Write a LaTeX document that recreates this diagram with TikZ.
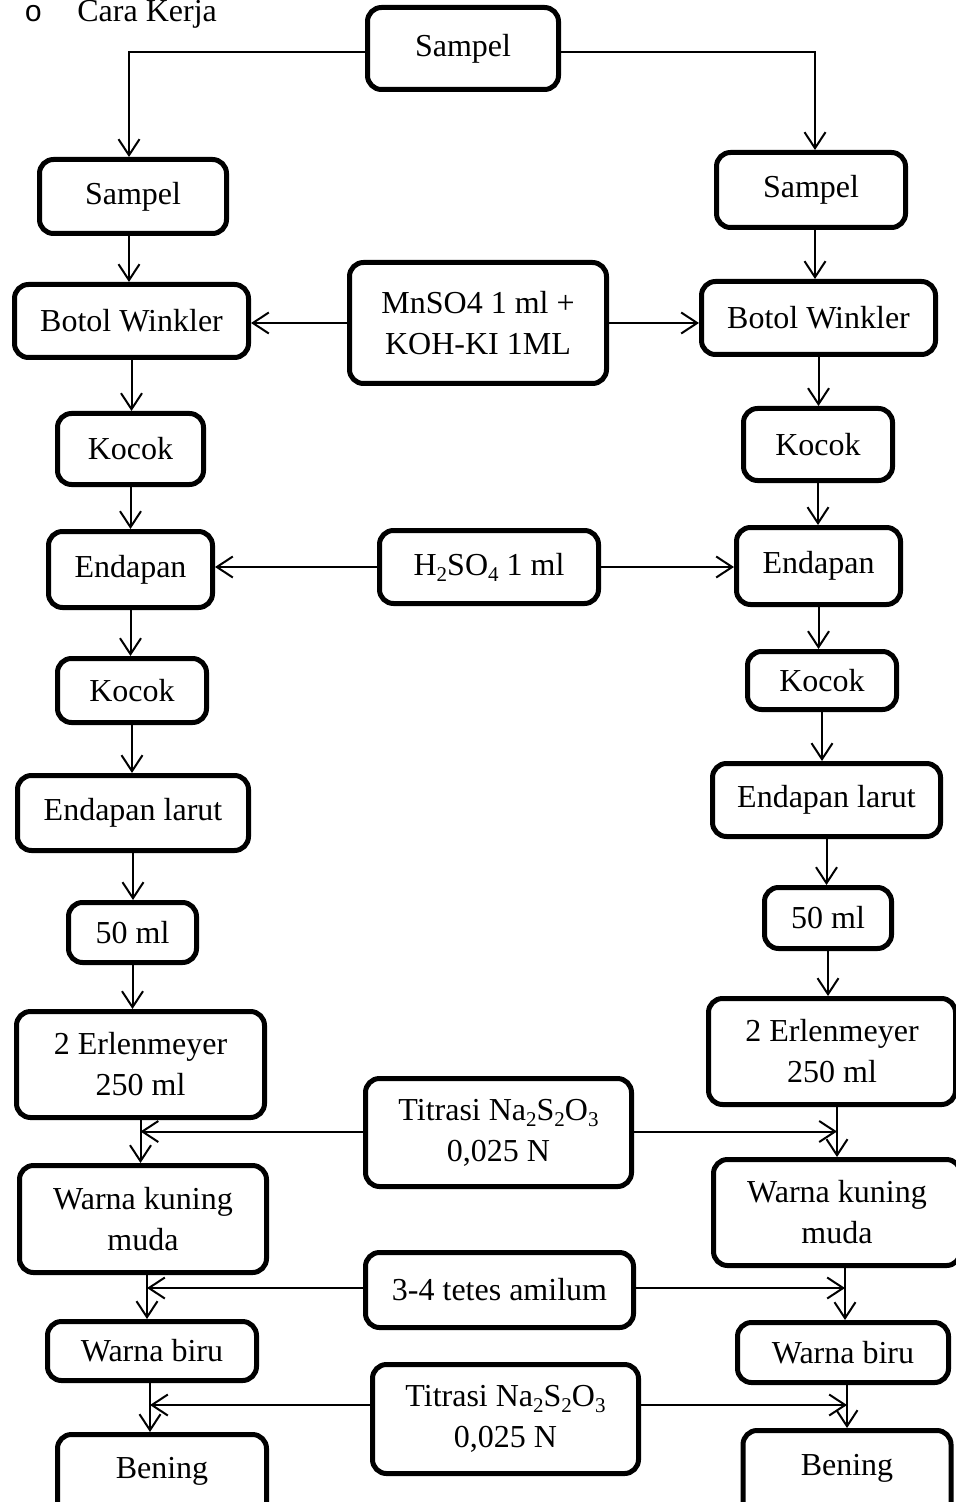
\documentclass[tikz,border=0pt]{standalone}
\usepackage{fontspec}
\setmainfont{Liberation Serif}
\newfontfamily\bulletfont{Liberation Mono}
\usetikzlibrary{arrows.meta}
\newcommand\txt{\fontsize{16}{20.5}\selectfont}
\newcommand\sbs[1]{\raisebox{-0.4ex}{\fontsize{10.5}{12}\selectfont #1}}
\begin{document}
\begin{tikzpicture}[x=0.5pt,y=-0.5pt,
  box/.style={draw,line width=2.5pt,rounded corners=7pt,align=center,inner sep=0pt,font=\txt},
  arr/.style={line width=1pt,-{Straight Barb[length=8pt,width=10.5pt]}}]
\useasboundingbox (0,0) rectangle (956,1502);
\clip (0,0) rectangle (956,1502);
% title
\node[anchor=base west,font=\bulletfont\fontsize{15}{18}\selectfont,inner sep=0pt] (bul) at (24,22) {o};
\node[anchor=base west,font=\txt,inner sep=0pt] (title) at (77,22) {Cara Kerja};
% top
\node[box,minimum width=95.5pt,minimum height=41pt] (top) at (463,48.5) {Sampel};
% left column
\node[box,minimum width=93.5pt,minimum height=37pt] (sL) at (133,196.5) {Sampel};
\node[box,minimum width=117pt,minimum height=36.5pt] (bwL) at (131.5,321) {Botol Winkler};
\node[box,minimum width=73pt,minimum height=35.5pt] (kL1) at (130.5,449) {Kocok};
\node[box,minimum width=82pt,minimum height=38pt] (eL) at (130.5,569.5) {Endapan};
\node[box,minimum width=74.5pt,minimum height=32pt] (kL2) at (132,690.5) {Kocok};
\node[box,minimum width=115.5pt,minimum height=37.5pt] (elL) at (133,813) {Endapan larut};
\node[box,minimum width=64pt,minimum height=30pt] (mlL) at (132.5,932.5) {50 ml};
\node[box,minimum width=124pt,minimum height=53pt] (erL) at (140.5,1064.5) {2 Erlenmeyer\\250 ml};
\node[box,minimum width=123.5pt,minimum height=53.5pt] (wkL) at (143,1219) {Warna kuning\\muda};
\node[box,minimum width=104.5pt,minimum height=29.5pt] (wbL) at (152,1351) {Warna biru};
\node[box,minimum width=104.5pt,text height=21.75pt,text depth=22pt,anchor=north] (bnL) at (162,1432) {Bening};
% right column
\node[box,minimum width=94.5pt,minimum height=37.5pt] (sR) at (811,190) {Sampel};
\node[box,minimum width=117pt,minimum height=36.5pt] (bwR) at (818.5,318) {Botol Winkler};
\node[box,minimum width=74.5pt,minimum height=36pt] (kR1) at (818,444.5) {Kocok};
\node[box,minimum width=82pt,minimum height=38.5pt] (eR) at (818.5,566) {Endapan};
\node[box,minimum width=74.5pt,minimum height=29pt] (kR2) at (822,680.5) {Kocok};
\node[box,minimum width=114pt,minimum height=36.5pt] (elR) at (826.5,800) {Endapan larut};
\node[box,minimum width=63.5pt,minimum height=30.5pt] (mlR) at (828,918) {50 ml};
\node[box,minimum width=123.5pt,minimum height=53pt] (erR) at (832,1051.5) {2 Erlenmeyer\\250 ml};
\node[box,minimum width=123.5pt,minimum height=53pt] (wkR) at (837,1212.5) {Warna kuning\\muda};
\node[box,minimum width=105.5pt,minimum height=30pt] (wbR) at (843,1352.5) {Warna biru};
\node[box,minimum width=104pt,text height=22.5pt,text depth=22pt,anchor=north] (bnR) at (847,1428) {Bening};
% centre
\node[box,minimum width=128.5pt,minimum height=60.5pt] (mn) at (478,323) {MnSO4 1 ml +\\KOH-KI 1ML};
\node[box,minimum width=109.5pt,minimum height=36.5pt] (h2) at (489,567) {H\sbs{2}SO\sbs{4} 1 ml};
\node[box,minimum width=133pt,minimum height=54pt] (t1) at (498.5,1132.5) {Titrasi Na\sbs{2}S\sbs{2}O\sbs{3}\\0,025 N};
\node[box,minimum width=134pt,minimum height=37.5pt] (am) at (499.5,1290) {3-4 tetes amilum};
\node[box,minimum width=133pt,minimum height=54.5pt] (t2) at (505.5,1419) {Titrasi Na\sbs{2}S\sbs{2}O\sbs{3}\\0,025 N};
% junction coordinates on the vertical lines
\coordinate (jL1) at (erL.south);
\coordinate (jR1) at (wkR.north);
\coordinate (jL2) at ([xshift=2pt]wkL.south);
\coordinate (jR2) at ([xshift=1pt]wbR.north);
\coordinate (jL3) at ([xshift=-1pt]wbL.south);
\coordinate (jR3) at (bnR.north);
% top split
\draw[arr] ([yshift=-2pt]top.west) -| ([xshift=-2pt]sL.north);
\draw[arr] ([yshift=-2pt]top.east) -| ([xshift=2pt]sR.north);
% left verticals
\draw[arr] ([xshift=-2pt]sL.south) -- ([xshift=-2pt]sL.south |- bwL.north);
\draw[arr] (bwL.south) -- (bwL.south |- kL1.north);
\draw[arr] (kL1.south) -- (kL1.south |- eL.north);
\draw[arr] (eL.south) -- (eL.south |- kL2.north);
\draw[arr] (kL2.south) -- (kL2.south |- elL.north);
\draw[arr] (elL.south) -- (elL.south |- mlL.north);
\draw[arr] (mlL.south) -- (mlL.south |- erL.north);
\draw[arr] (jL1) -- (jL1 |- wkL.north);
\draw[arr] (jL2) -- (jL2 |- wbL.north);
\draw[arr] (jL3) -- (jL3 |- bnL.north);
% right verticals
\draw[arr] ([xshift=2pt]sR.south) -- ([xshift=2pt]sR.south |- bwR.north);
\draw[arr] (bwR.south) -- (bwR.south |- kR1.north);
\draw[arr] (kR1.south) -- (kR1.south |- eR.north);
\draw[arr] (eR.south) -- (eR.south |- kR2.north);
\draw[arr] (kR2.south) -- (kR2.south |- elR.north);
\draw[arr] (elR.south) -- (elR.south |- mlR.north);
\draw[arr] (mlR.south) -- (mlR.south |- erR.north);
\draw[arr] (jR1 |- erR.south) -- (jR1);
\draw[arr] (jR2 |- wkR.south) -- (jR2);
\draw[arr] (jR3 |- wbR.south) -- (jR3);
% horizontal inputs
\draw[arr] (mn.west) -- (mn.west -| bwL.east);
\draw[arr] (mn.east) -- (mn.east -| bwR.west);
\draw[arr] (h2.west) -- (h2.west -| eL.east);
\draw[arr] (h2.east) -- (h2.east -| eR.west);
\draw[arr] ([yshift=0.5pt]t1.west) -- ([yshift=0.5pt]t1.west -| jL1);
\draw[arr] ([yshift=0.5pt]t1.east) -- ([yshift=0.5pt]t1.east -| jR1);
\draw[arr] ([yshift=1pt]am.west) -- ([yshift=1pt]am.west -| jL2);
\draw[arr] ([yshift=1pt]am.east) -- ([yshift=1pt]am.east -| jR2);
\draw[arr] ([yshift=7pt]t2.west) -- ([yshift=7pt]t2.west -| jL3);
\draw[arr] ([yshift=7pt]t2.east) -- ([yshift=7pt]t2.east -| jR3);
\end{tikzpicture}
\end{document}
